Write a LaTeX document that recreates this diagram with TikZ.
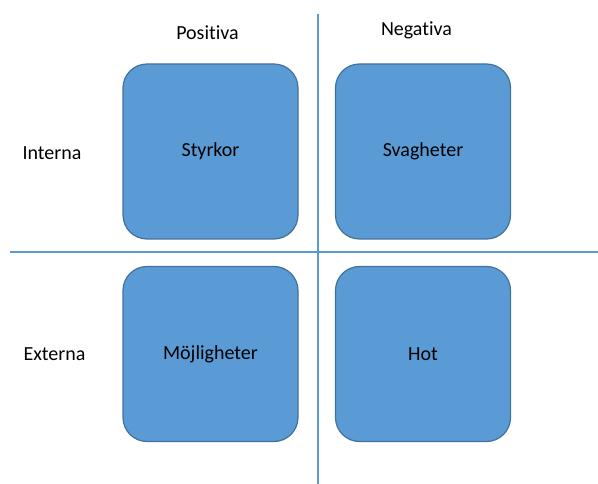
\documentclass[tikz,border=0pt]{standalone}
\usepackage{fontspec}
\setmainfont[Ligatures=NoCommon]{Carlito}
\definecolor{boxfill}{HTML}{5B9BD5}
\definecolor{boxedge}{HTML}{41719C}
\definecolor{axis}{HTML}{5B9BD5}
\begin{document}
\begin{tikzpicture}[x=1pt,y=-1pt,
  quad/.style={draw=boxedge,line width=1.2pt,fill=boxfill,rounded corners=24pt,
    minimum width=175pt,minimum height=175pt,inner sep=0pt,
    font=\fontsize{20}{24}\selectfont,text=black},
  lbl/.style={font=\fontsize{20}{24}\selectfont,text=black,inner sep=0pt},
  axisline/.style={draw=axis,line width=2pt}]
\useasboundingbox (0,0) rectangle (598,484);
% quadrant axes
\coordinate (vtop) at (317.5,14);
\coordinate (vbot) at (317.5,484);
\coordinate (hleft) at (10,252.5);
\coordinate (hright) at (598,252.5);
\draw[axisline] (vtop) -- (vbot);
\draw[axisline] (hleft) -- (hright);
% column and row headings
\node[lbl] (pos) at (207.5,33) {Positiva};
\node[lbl] (neg) at (416.5,30) {Negativa};
\node[lbl] (int) at (52,153) {Interna};
\node[lbl] (ext) at (54.5,354) {Externa};
% the four fields
\node[quad] (s) at (210.5,151.5) {Styrkor};
\node[quad] (w) at (423,151.5) {Svagheter};
\node[quad] (o) at (210.5,354) {Möjligheter};
\node[quad] (t) at (423,354) {Hot};
\end{tikzpicture}
\end{document}
